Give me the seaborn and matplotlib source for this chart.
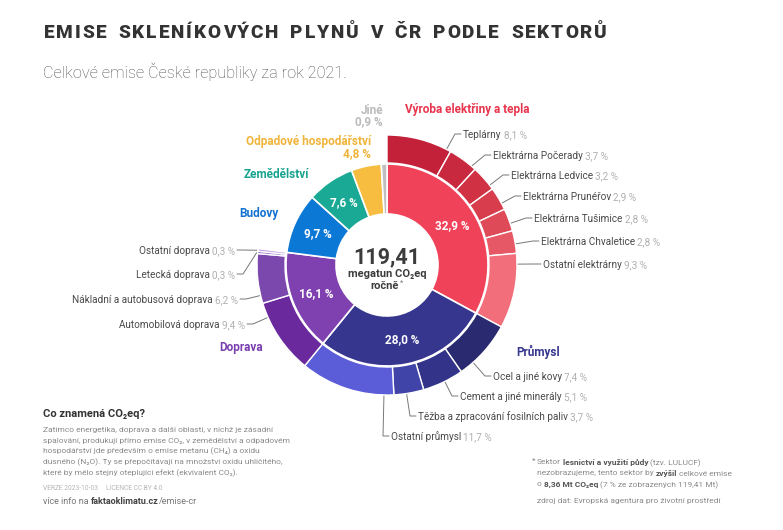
import numpy as np
import matplotlib
matplotlib.use('Agg')
import matplotlib.pyplot as plt
import seaborn as sns

sns.set_style('white')
plt.rcParams['font.family'] = ['Roboto', 'DejaVu Sans']

# --- data ---------------------------------------------------------------
sectors = ['Výroba elektřiny a tepla', 'Průmysl', 'Doprava', 'Budovy',
           'Zemědělství', 'Odpadové hospodářství', 'Jiné']
sector_pct = [32.9, 28.0, 16.1, 9.7, 7.6, 4.8, 0.9]

elec_names = ['Teplárny', 'Elektrárna Počerady', 'Elektrárna Ledvice',
              'Elektrárna Prunéřov', 'Elektrárna Tušimice',
              'Elektrárna Chvaletice', 'Ostatní elektrárny']
elec_pct = [8.1, 3.7, 3.2, 2.9, 2.8, 2.8, 9.3]

ind_names = ['Ocel a jiné kovy', 'Cement a jiné minerály',
             'Těžba a zpracování fosilních paliv', 'Ostatní průmysl']
ind_pct = [7.4, 5.1, 3.7, 11.7]

trans_names = ['Automobilová doprava', 'Nákladní a autobusová doprava',
               'Letecká doprava', 'Ostatní doprava']
trans_pct = [9.4, 6.2, 0.3, 0.3]

total_mt = '119,41'

# --- colours ------------------------------------------------------------
sector_colors = ['#F0435A', '#36368F', '#7F40B0', '#0C78D6',
                 '#19A994', '#F6BD40', '#BFBFBF']
title_colors = ['#E8354E', '#36368F', '#7A3FAF', '#1272D0',
                '#17A38F', '#F0B43A', '#BBBBBB']
elec_colors = ['#C22139', '#C9293F', '#D03244', '#D83D4D',
               '#DF4A59', '#E65866', '#F26E7B']
ind_colors = ['#2A2A70', '#323389', '#4043A8', '#5A5CD8']
trans_colors = ['#6A2A9E', '#7B48AD', '#9C70CC', '#B894DE']

NAME_C = '#4a4a4a'
PCT_C = '#b0b0b0'
TEXT_C = '#8a8a8a'

def pct(v):
    return f'{v:.1f}'.replace('.', ',') + ' %'

# --- figure -------------------------------------------------------------
W, H = 783, 530
fig = plt.figure(figsize=(W / 100, H / 100), dpi=100)
ax = fig.add_axes([0, 0, 1, 1])
CX, CY = 387, 265
R_IN, R_OUT = 101, 130

# inner ring: sectors
ax.pie(sector_pct, colors=sector_colors, radius=R_IN, center=(CX, CY),
       startangle=-90, counterclock=True,
       wedgeprops=dict(width=50, edgecolor='white', linewidth=1.2))

# outer ring: sub-sectors, fitted into each sector's span
groups = [(elec_pct, elec_colors), (ind_pct, ind_colors), (trans_pct, trans_colors)]
outer_vals, outer_colors = [], []
for (subs, cols), tot in zip(groups, sector_pct[:3]):
    outer_vals += [v * tot / sum(subs) for v in subs]
    outer_colors += cols
outer_vals.append(sum(sector_pct[3:]))
outer_colors.append('none')
wedges, _ = ax.pie(outer_vals, colors=outer_colors, radius=R_OUT, center=(CX, CY),
                   startangle=-90, counterclock=True,
                   wedgeprops=dict(width=28, edgecolor='white', linewidth=1))
wedges[-1].set_visible(False)

ax.set_xlim(0, W)
ax.set_ylim(H, 0)
ax.set_aspect('equal')
ax.axis('off')

renderer = fig.canvas.get_renderer()


def rich(x, y, parts, size=7.2, ha='left'):
    """parts: list of (text, weight, color); a leading space means a gap."""
    texts, widths = [], []
    for s, w, c in parts:
        gap = 0
        if s.startswith(' '):
            gap = 0.22 * size * 100 / 72
            s = s.lstrip()
        t = ax.text(0, y, s, fontsize=size, fontweight=w, color=c, va='center_baseline')
        texts.append((t, gap))
        widths.append(gap + t.get_window_extent(renderer).width)
    total = sum(widths)
    start = {'left': x, 'right': x - total, 'center': x - total / 2}[ha]
    for (t, gap), w in zip(texts, widths):
        t.set_x(start + gap)
        start += w
    return start


def tracked(x, y, s, size, tracking, space, weight, **kw):
    """letter-spaced text, drawn one glyph at a time"""
    for ch in s:
        if ch == ' ':
            x += space
            continue
        t = ax.text(x, y, ch, fontsize=size, fontweight=weight,
                    va='baseline', ha='left', **kw)
        x += t.get_window_extent(renderer).width + tracking


# inner percentage labels
bounds = np.cumsum([0] + sector_pct) / sum(sector_pct) * 360
for i, v in enumerate(sector_pct):
    if v < 5:
        continue
    a = np.radians((bounds[i] + bounds[i + 1]) / 2)
    ax.text(CX + 76 * np.sin(a), CY - 76 * np.cos(a), pct(v), color='white',
            fontsize=8.5, fontweight='bold', ha='center', va='center')

# outer labels with leader lines
obounds = np.cumsum([0] + outer_vals) / sum(outer_vals) * 360
names = elec_names + ind_names + trans_names
vals = elec_pct + ind_pct + trans_pct
label_pos = [(463, 134), (493, 155), (511, 175), (523, 196), (534, 218),
             (541, 241), (543, 264),
             (493, 376), (460, 396), (418, 416), (391, 436),
             (245, 324), (238, 299), (235, 274), (235, 250)]
sides = ['r'] * 11 + ['l'] * 4
for i, (name, v, (tx, ty), side) in enumerate(zip(names, vals, label_pos, sides)):
    a0, a1 = obounds[i], obounds[i + 1]
    ex = tx - 8 if side == 'r' else tx + 8
    ang = np.degrees(np.arctan2(ex - CX, -(ty - CY))) % 360
    m = min(2, 0.3 * (a1 - a0))
    ang = np.clip(ang, a0 + m, a1 - m)
    px = CX + 131 * np.sin(np.radians(ang))
    py = CY - 131 * np.cos(np.radians(ang))
    end = tx - 2 if side == 'r' else tx + 2
    ax.plot([px, ex, end], [py, ty, ty], color='#777777', lw=0.7)
    rich(tx, ty, [(name, 'normal', NAME_C), (' ' + pct(v), 'normal', PCT_C)],
         size=7.2, ha='left' if side == 'r' else 'right')

# sector titles
ax.text(405, 109, sectors[0], color=title_colors[0], fontsize=8.5,
        fontweight='bold', ha='left', va='center')
ax.text(516, 352, sectors[1], color=title_colors[1], fontsize=8.5,
        fontweight='bold', ha='left', va='center')
ax.text(219, 348, sectors[2], color=title_colors[2], fontsize=8.5,
        fontweight='bold', ha='left', va='center')
ax.text(278, 214, sectors[3], color=title_colors[3], fontsize=8.5,
        fontweight='bold', ha='right', va='center')
ax.text(309, 174, sectors[4], color=title_colors[4], fontsize=8.5,
        fontweight='bold', ha='right', va='center')
ax.text(371, 141, sectors[5], color=title_colors[5], fontsize=8.5,
        fontweight='bold', ha='right', va='center')
ax.text(371, 154, pct(sector_pct[5]), color=title_colors[5], fontsize=8.5,
        fontweight='bold', ha='right', va='center')
ax.text(383, 110, sectors[6], color=title_colors[6], fontsize=8.5,
        fontweight='bold', ha='right', va='center')
ax.text(383, 122, pct(sector_pct[6]), color=title_colors[6], fontsize=8.5,
        fontweight='bold', ha='right', va='center')

# centre
ax.text(CX, 257, total_mt, color='#3c3c3c', fontsize=15.5, fontweight='bold',
        ha='center', va='center')
ax.text(CX, 274, 'megatun CO₂eq', color='#3c3c3c', fontsize=8,
        fontweight='bold', ha='center', va='center')
r_txt = ax.text(CX - 2, 286, 'ročně', color='#3c3c3c', fontsize=8,
                fontweight='bold', ha='center', va='center')
r_bb = r_txt.get_window_extent(renderer)
ax.text(r_bb.x1 + 0.5, 283, '*', color='#777777', fontsize=5.5,
        ha='left', va='center')

# header
tracked(44, 38.5, 'EMISE SKLENÍKOVÝCH PLYNŮ V ČR PODLE SEKTORŮ', size=13.7,
        tracking=1.85, space=10, weight='black', color='#333333')
ax.text(43, 72, 'Celkové emise České republiky za rok 2021.', color='#4f4f4f',
        fontsize=11.7, fontweight='light', ha='left', va='center')

# bottom left note
ax.text(43, 414, 'Co znamená CO₂eq?', color='#333333', fontsize=8,
        fontweight='bold', ha='left', va='center')
note = ['Zatímco energetika, doprava a další oblasti, v nichž je zásadní',
        'spalování, produkují přímo emise CO₂, v zemědělství a odpadovém',
        'hospodářství jde především o emise metanu (CH₄) a oxidu',
        'dusného (N₂O). Ty se přepočítávají na množství oxidu uhličitého,',
        'které by mělo stejný oteplující efekt (ekvivalent CO₂).']
for k, line in enumerate(note):
    ax.text(43, 430 + k * 10.7, line, color=TEXT_C, fontsize=6,
            ha='left', va='center')
ax.text(43, 488, 'VERZE 2023-10-03     LICENCE CC BY 4.0', color='#b5b5b5',
        fontsize=4.8, ha='left', va='center')
rich(43, 501, [('více info na', 'normal', '#777777'),
               (' faktaoklimatu.cz', 'bold', '#444444'),
               ('/emise-cr', 'normal', '#777777')], size=6.5)

# bottom right note
ax.text(532, 461, '*', color=TEXT_C, fontsize=6, ha='left', va='center')
rich(537, 462, [('Sektor', 'normal', TEXT_C),
                (' lesnictví a využití půdy', 'bold', '#555555'),
                (' (tzv. LULUCF)', 'normal', TEXT_C)], size=6)
rich(537, 473, [('nezobrazujeme, tento sektor by', 'normal', TEXT_C),
                (' zvýšil', 'bold', '#555555'),
                (' celkové emise', 'normal', TEXT_C)], size=6)
rich(537, 484, [('o', 'normal', TEXT_C),
                (' 8,36 Mt CO₂eq', 'bold', '#555555'),
                (' (7 % ze zobrazených 119,41 Mt)', 'normal', TEXT_C)], size=6)
ax.text(537, 501, 'zdroj dat: Evropská agentura pro životní prostředí',
        color=TEXT_C, fontsize=6, ha='left', va='center')

fig.savefig('out.png', dpi=100, facecolor='white')
